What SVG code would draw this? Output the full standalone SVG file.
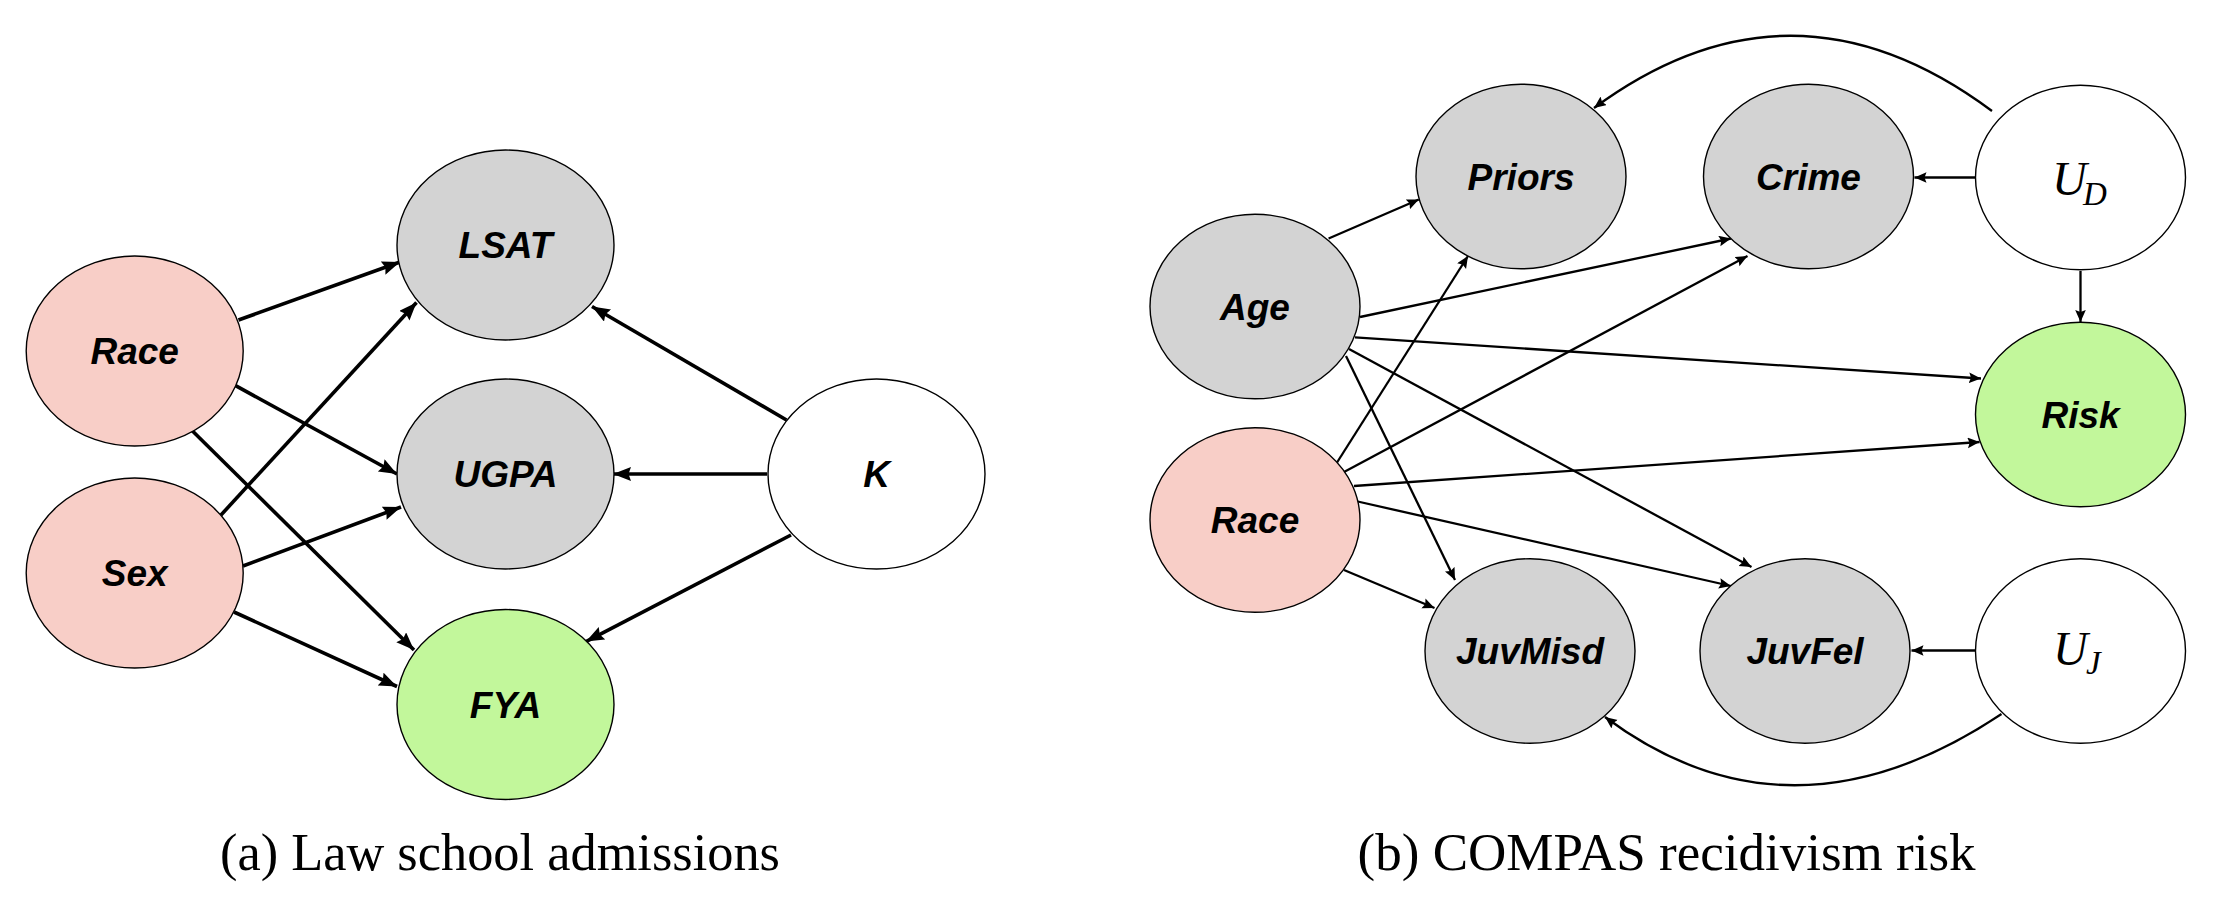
<svg xmlns="http://www.w3.org/2000/svg" width="2230" height="912" viewBox="0 0 2230 912">
<style>
.n{stroke:#000;stroke-width:1.4}
.pink{fill:#f8cec7}
.grey{fill:#d3d3d3}
.green{fill:#c2f79b}
.white{fill:#fff}
.lbl{font-family:"Liberation Sans",Arial,sans-serif;font-weight:bold;font-style:italic;font-size:37px;text-anchor:middle;fill:#000}
.var{font-family:"Liberation Serif","Times New Roman",serif;font-style:italic;fill:#000}
.cap{font-family:"Liberation Serif","Times New Roman",serif;font-size:52px;text-anchor:middle;fill:#000}
.ea{stroke:#000;stroke-width:3.6;fill:none;marker-end:url(#ah)}
.eb{stroke:#000;stroke-width:2.3;fill:none;marker-end:url(#bh)}
</style>
<defs>
<marker id="ah" markerUnits="userSpaceOnUse" markerWidth="20" markerHeight="16" refX="18" refY="7" orient="auto">
<path d="M18,7 L0,0 L2.5,7 L0,14 z" fill="#000"/>
</marker>
<marker id="bh" markerUnits="userSpaceOnUse" markerWidth="14" markerHeight="12" refX="12" refY="5.3" orient="auto">
<path d="M12,5.3 L0,0 L2,5.3 L0,10.6 z" fill="#000"/>
</marker>
</defs>
<rect width="2230" height="912" fill="#fff"/>
<g id="connectors">
<line class="ea" x1="238.5" y1="320" x2="400" y2="262"/>
<line class="ea" x1="235.6" y1="385.7" x2="397" y2="474"/>
<line class="ea" x1="192" y1="430.5" x2="414" y2="650"/>
<line class="ea" x1="221" y1="515" x2="416.5" y2="302.5"/>
<line class="ea" x1="243" y1="566" x2="401" y2="507"/>
<line class="ea" x1="234" y1="612" x2="397" y2="686.5"/>
<line class="ea" x1="786.5" y1="420" x2="592" y2="306.5"/>
<line class="ea" x1="767" y1="474" x2="613" y2="474"/>
<line class="ea" x1="791" y1="535" x2="586" y2="641.6"/>
<line class="eb" x1="1328.6" y1="238.5" x2="1418.8" y2="199.5"/>
<line class="eb" x1="1360" y1="317" x2="1731" y2="238.5"/>
<line class="eb" x1="1355" y1="337.4" x2="1981" y2="378.5"/>
<line class="eb" x1="1349" y1="349" x2="1751.5" y2="567"/>
<line class="eb" x1="1346" y1="356" x2="1455" y2="580"/>
<line class="eb" x1="1337" y1="462.5" x2="1468" y2="256"/>
<line class="eb" x1="1344" y1="472" x2="1747.5" y2="256"/>
<line class="eb" x1="1354" y1="486" x2="1979.6" y2="442"/>
<line class="eb" x1="1357.7" y1="501.5" x2="1731" y2="586"/>
<line class="eb" x1="1344" y1="570" x2="1434.5" y2="608"/>
<line class="eb" x1="1975" y1="177.5" x2="1914.5" y2="177.5"/>
<line class="eb" x1="1975" y1="650.5" x2="1911.5" y2="650.5"/>
<line class="eb" x1="2080.5" y1="271" x2="2080.5" y2="322"/>
<path class="eb" d="M1992,111 Q1792,-38 1594,108"/>
<path class="eb" d="M2001.5,714 Q1790,855 1605,717"/>
</g>
<g id="a-race"><ellipse class="n pink" cx="134.7" cy="351" rx="108.5" ry="95"/><text class="lbl" x="134.7" y="364">Race</text></g>
<g id="a-sex"><ellipse class="n pink" cx="134.7" cy="573" rx="108.5" ry="95"/><text class="lbl" x="134.7" y="586">Sex</text></g>
<g id="a-lsat"><ellipse class="n grey" cx="505.5" cy="245" rx="108.5" ry="95"/><text class="lbl" x="505.5" y="258">LSAT</text></g>
<g id="a-ugpa"><ellipse class="n grey" cx="505.5" cy="474" rx="108.5" ry="95"/><text class="lbl" x="505.5" y="487">UGPA</text></g>
<g id="a-fya"><ellipse class="n green" cx="505.5" cy="704.5" rx="108.5" ry="95"/><text class="lbl" x="505.5" y="717.5">FYA</text></g>
<g id="a-k"><ellipse class="n white" cx="876.5" cy="474" rx="108.5" ry="95"/><text class="lbl" x="876.5" y="487">K</text></g>
<g id="b-age"><ellipse class="n grey" cx="1255" cy="306.5" rx="105" ry="92.3"/><text class="lbl" x="1255" y="319.5">Age</text></g>
<g id="b-race"><ellipse class="n pink" cx="1255" cy="520" rx="105" ry="92.3"/><text class="lbl" x="1255" y="533">Race</text></g>
<g id="b-priors"><ellipse class="n grey" cx="1521" cy="176.5" rx="105" ry="92.3"/><text class="lbl" x="1521" y="189.5">Priors</text></g>
<g id="b-crime"><ellipse class="n grey" cx="1808.5" cy="176.5" rx="105" ry="92.3"/><text class="lbl" x="1808.5" y="189.5">Crime</text></g>
<g id="b-juvmisd"><ellipse class="n grey" cx="1530" cy="651" rx="105" ry="92.3"/><text class="lbl" x="1530" y="664">JuvMisd</text></g>
<g id="b-juvfel"><ellipse class="n grey" cx="1805" cy="651" rx="105" ry="92.3"/><text class="lbl" x="1805" y="664">JuvFel</text></g>
<g id="b-ud"><ellipse class="n white" cx="2080.5" cy="177.5" rx="105" ry="92.3"/><text class="var" x="2052" y="195" font-size="48">U</text><text class="var" x="2083" y="205" font-size="33">D</text></g>
<g id="b-risk"><ellipse class="n green" cx="2080.5" cy="414.5" rx="105" ry="92.3"/><text class="lbl" x="2080.5" y="427.5">Risk</text></g>
<g id="b-uj"><ellipse class="n white" cx="2080.5" cy="651" rx="105" ry="92.3"/><text class="var" x="2053" y="665" font-size="48">U</text><text class="var" x="2086" y="674" font-size="33">J</text></g>
<text class="cap" x="500" y="870" textLength="560" lengthAdjust="spacingAndGlyphs">(a) Law school admissions</text>
<text class="cap" x="1666.6" y="870" textLength="618" lengthAdjust="spacingAndGlyphs">(b) COMPAS recidivism risk</text>
</svg>
